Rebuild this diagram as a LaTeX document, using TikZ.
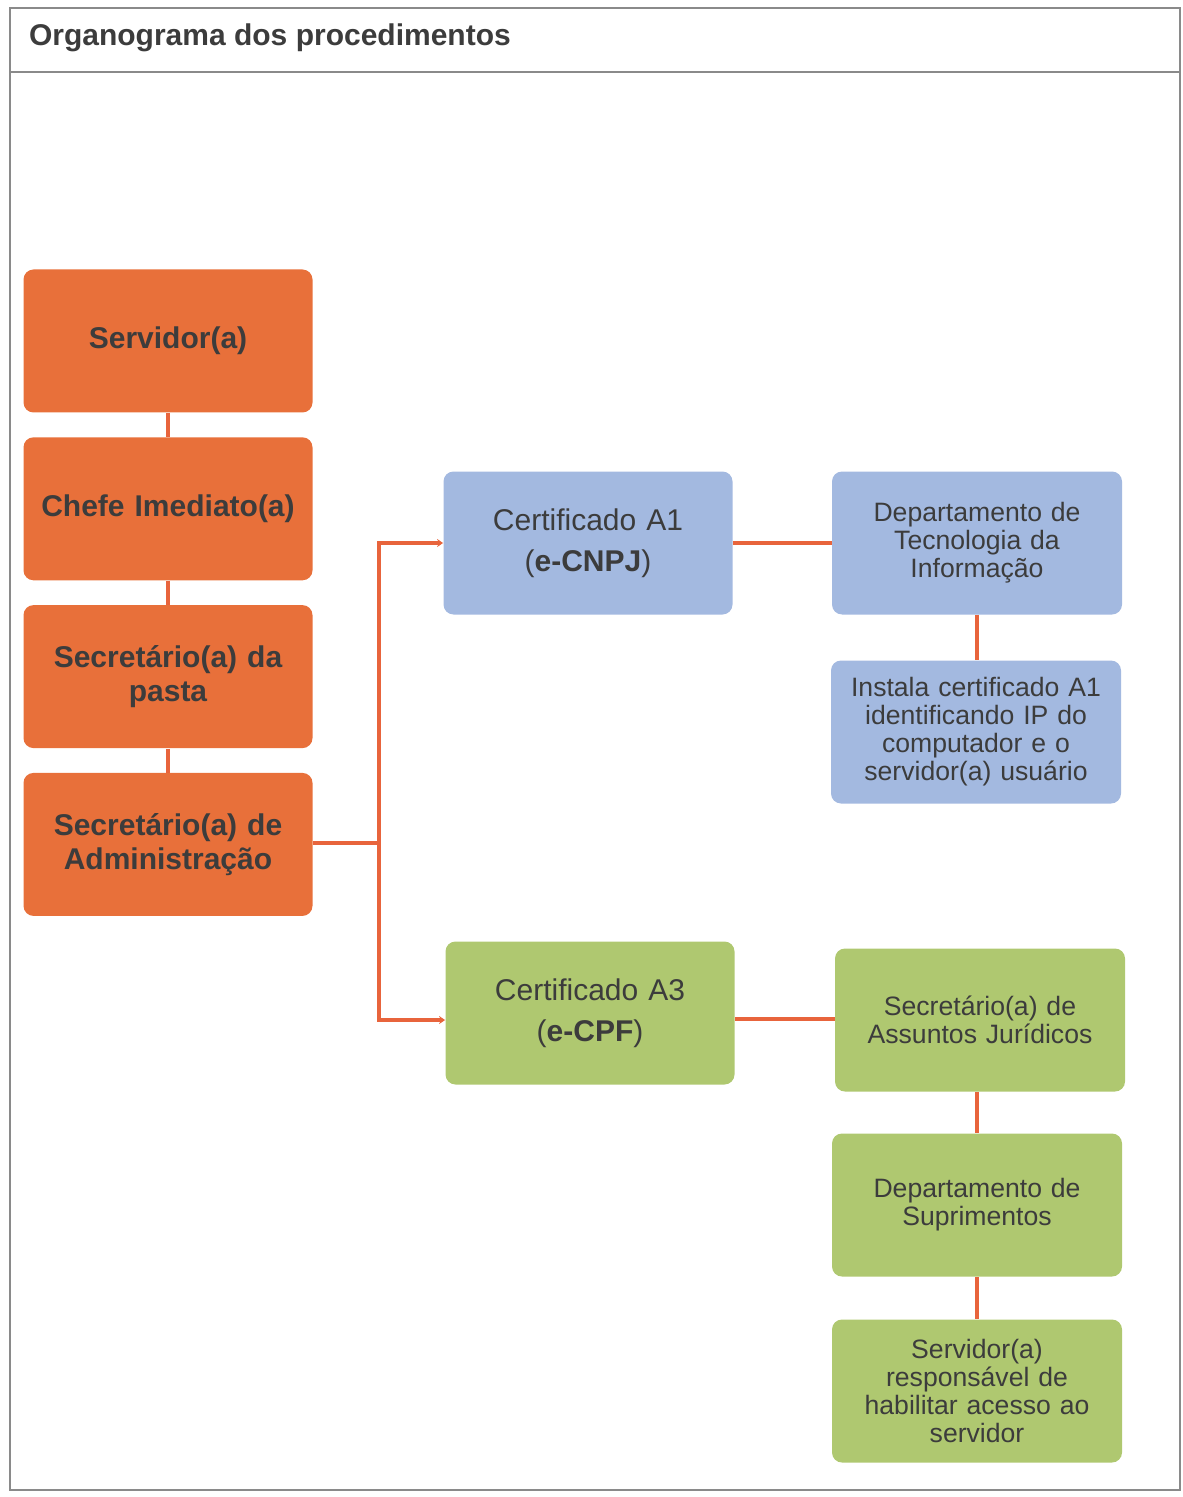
\documentclass[tikz,border=0pt]{standalone}
\usepackage{xcolor}
\usepackage{fontspec}
\setmainfont{Liberation Sans}
\usepackage{tikz}
\usetikzlibrary{shapes,arrows,arrows.meta}
\usetikzlibrary{positioning}
\definecolor{laranja}{HTML}{E8703A}
\definecolor{azul}{HTML}{A3B9E0}
\definecolor{verde}{HTML}{AFC870}
\definecolor{texto}{HTML}{3C3C3C}
\definecolor{ligacao}{HTML}{E8643C}
\definecolor{moldura}{HTML}{8A8A8A}
\tikzstyle{chefia} = [rectangle, rounded corners=5pt, fill=laranja, text=texto,
    font=\bfseries\fontsize{15}{17}\selectfont, text width=134pt, align=center,
    minimum width=144.5pt, minimum height=71.5pt, inner sep=0pt]
\tikzstyle{certif} = [rectangle, rounded corners=5pt, text=texto,
    font=\fontsize{15}{20.5}\selectfont, text width=134pt, align=center,
    minimum width=144.5pt, minimum height=71.5pt, inner sep=0pt]
\tikzstyle{etapa} = [rectangle, rounded corners=5pt, text=texto,
    font=\fontsize{13.3}{14}\selectfont, text width=134pt, align=center,
    minimum width=145pt, minimum height=71.5pt, inner sep=0pt]
\tikzstyle{line} = [draw, ligacao, line width=1.6pt]
\tikzstyle{seta} = [draw, ligacao, line width=1.6pt, -{Stealth[length=3pt,width=4pt]}]

\begin{document}
\begin{tikzpicture}[x=0.5pt,y=-0.5pt]
    \useasboundingbox (0,0) rectangle (1182,1497);
    % moldura e titulo
    \draw[moldura, line width=0.9pt] (10,8) rectangle (1180,1490);
    \draw[moldura, line width=0.9pt] (10,72) -- (1180,72);
    \node[anchor=west, text=texto, font=\bfseries\fontsize{15}{17}\selectfont] (titulo) at (22,38) {Organograma dos procedimentos};
    % Place nodes
    \node [chefia] (srv) at (168,341) {Servidor(a)};
    \node [chefia, below=12pt of srv] (chefe) {Chefe Imediato(a)};
    \node [chefia, below=12pt of chefe] (pasta) {Secretário(a) da\\pasta};
    \node [chefia, below=12pt of pasta] (adm) {Secretário(a) de\\Administração};
    \coordinate (ramo) at (379,843);
    \node [certif, fill=azul] (a1) at (588,543) {Certificado A1\\(\textbf{e-CNPJ})};
    \node [certif, fill=verde] (a3) at (590,1013) {Certificado A3\\(\textbf{e-CPF})};
    \node [etapa, fill=azul] (ti) at (977,543) {Departamento de\\Tecnologia da\\Informação};
    \node [etapa, fill=azul] (inst) at (976,732) {Instala certificado A1\\identificando IP do\\computador e o\\servidor(a) usuário};
    \node [etapa, fill=verde] (jur) at (980,1020) {Secretário(a) de\\Assuntos Jurídicos};
    \node [etapa, fill=verde] (supr) at (977,1205) {Departamento de\\Suprimentos};
    \node [etapa, fill=verde] (resp) at (977,1391) {Servidor(a)\\responsável de\\habilitar acesso ao\\servidor};
    % Draw edges
    \path [line] (srv) -- (chefe);
    \path [line] (chefe) -- (pasta);
    \path [line] (pasta) -- (adm);
    \path [line] (adm.east |- ramo) -- (ramo);
    \path [seta] (ramo) |- (a1.west);
    \path [seta] (ramo) |- ([yshift=-3.5pt]a3.west);
    \path [line] (a1) -- (ti);
    \path [line] (ti) -- (ti |- inst.north);
    \path [line] ([yshift=-3pt]a3.east) -- ([yshift=-3pt]a3.east -| jur.west);
    \path [line] (supr |- jur.south) -- (supr);
    \path [line] (supr) -- (resp);
\end{tikzpicture}
\end{document}
